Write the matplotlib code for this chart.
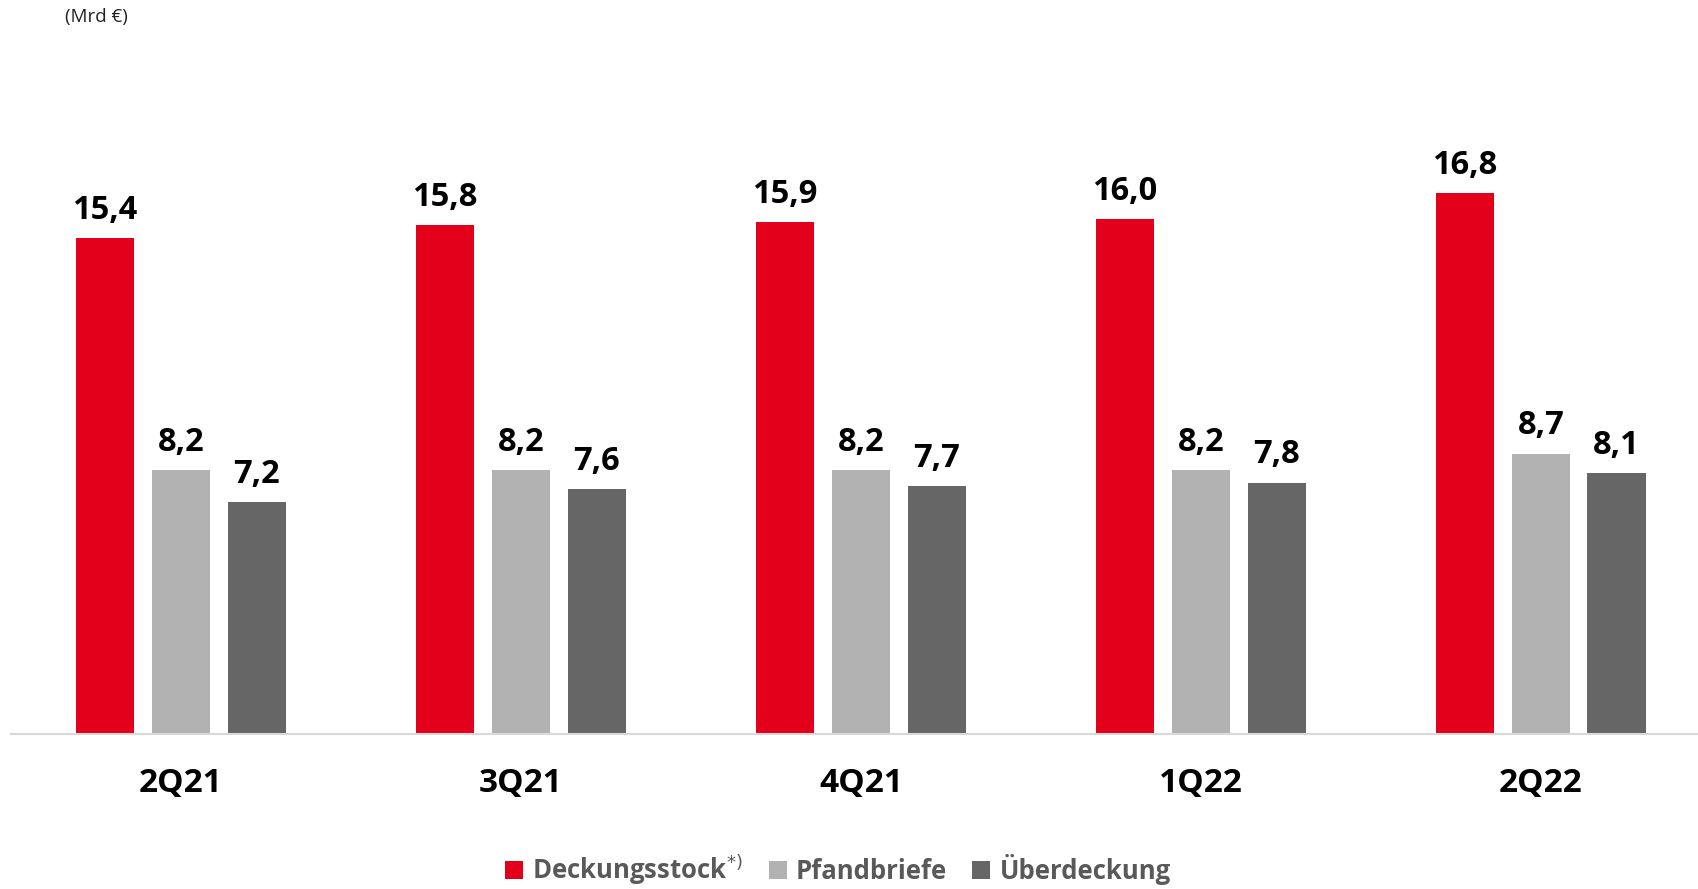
import matplotlib.pyplot as plt
import numpy as np

quarters = ['2Q21', '3Q21', '4Q21', '1Q22', '2Q22']
deckungsstock = [15.4, 15.8, 15.9, 16.0, 16.8]
pfandbriefe = [8.2, 8.2, 8.2, 8.2, 8.7]
ueberdeckung = [7.2, 7.6, 7.7, 7.8, 8.1]

series_names = ['Deckungsstock$^{*)}$', 'Pfandbriefe', 'Überdeckung']
colors = ['#E2001A', '#B2B2B2', '#666666']

plt.rcParams['font.family'] = ['Open Sans', 'DejaVu Sans']

fig = plt.figure(figsize=(16.99, 8.89), dpi=100)
ax = fig.add_axes([11 / 1699, 1 - 733.5 / 889, 1688 / 1699, (733.5 - 90.3) / 889])

x = np.arange(len(quarters))
w = 0.172
off = 0.223
bars = []
for i, (vals, col, name) in enumerate(zip([deckungsstock, pfandbriefe, ueberdeckung], colors, series_names)):
    b = ax.bar(x + (i - 1) * off, vals, w, color=col, label=name, zorder=2)
    bars.append(b)
    for xi, v in zip(x + (i - 1) * off, vals):
        ax.text(xi, v + 0.35, f'{v:.1f}'.replace('.', ','), ha='center', va='bottom',
                fontsize=23.5, fontweight='bold', color='black')

ax.set_xlim(-0.5, 4.465)
ax.set_ylim(0, 20)
ax.set_yticks([])
ax.set_xticks(x)
ax.set_xticklabels(quarters, fontsize=24, fontweight='bold')
ax.tick_params(axis='x', length=0, pad=24)
for s in ['top', 'right', 'left']:
    ax.spines[s].set_visible(False)
ax.spines['bottom'].set_color('#D9D9D9')
ax.spines['bottom'].set_linewidth(1.5)

fig.text(65 / 1699, 1 - 17 / 889, '(Mrd €)', fontsize=13.5, va='center', ha='left', color='#222222')

leg = fig.legend(handles=bars, loc='center', bbox_to_anchor=(838 / 1699, 1 - 870 / 889),
                 ncol=3, frameon=False, handlelength=0.7, handleheight=0.7,
                 handletextpad=0.35, columnspacing=1.0,
                 prop={'size': 18.5, 'weight': 'bold'})
for t in leg.get_texts():
    t.set_color('#595959')

fig.savefig('out.png', dpi=100)
